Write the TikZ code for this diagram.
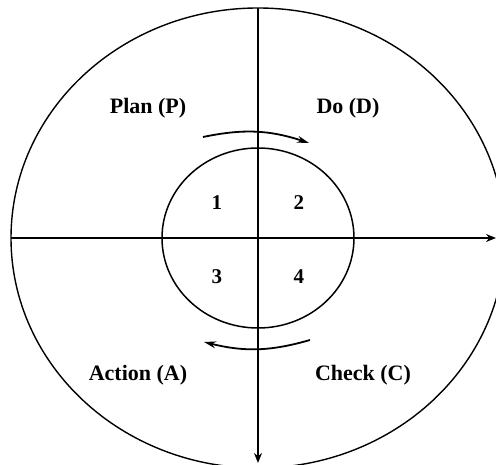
\documentclass[tikz,border=0pt]{standalone}
\usepackage{fontspec}
\setmainfont{Liberation Serif}
\usetikzlibrary{arrows.meta}

\tikzset{
    phase/.style={font=\fontsize{22}{26}\selectfont\bfseries},
    step num/.style={font=\fontsize{21}{25}\selectfont\bfseries},
    axis/.style={line width=1.8pt, -{Stealth[length=10pt,width=8pt]}},
    turn/.style={line width=1.8pt, -{Stealth[length=12pt,width=7pt]}}
}

\begin{document}
\begin{tikzpicture}[x=1pt,y=1pt]
    \useasboundingbox (-258,-227) rectangle (238,238);
    % circles
    \draw[line width=1.4pt] (0,0) ellipse [x radius=247, y radius=230];
    \draw[line width=1.5pt] (0,0) ellipse [x radius=96, y radius=90];

    % axes
    \coordinate (west) at (-247,0); \coordinate (east) at (238,0);
    \coordinate (north) at (0,230); \coordinate (south) at (0,-225);
    \draw[axis] (west) -- (east);
    \draw[axis] (north) -- (south);

    % direction of the cycle
    \coordinate (t1) at (-55,101); \coordinate (t2) at (51,95);
    \coordinate (b1) at (52,-102); \coordinate (b2) at (-54,-104);
    \draw[turn] (t1) to[bend left=15] (t2);
    \draw[turn] (b1) to[bend left=15] (b2);

    % quadrants
    \node[phase] (plan) at (-110,130) {Plan (P)};
    \node[phase] (do) at (90,130) {Do (D)};
    \node[phase] (act) at (-120,-137) {Action (A)};
    \node[phase] (check) at (105,-137) {Check (C)};

    \node[step num] (s1) at (-41,35) {1};
    \node[step num] (s2) at (41,35) {2};
    \node[step num] (s3) at (-41,-39) {3};
    \node[step num] (s4) at (41,-39) {4};
\end{tikzpicture}
\end{document}
